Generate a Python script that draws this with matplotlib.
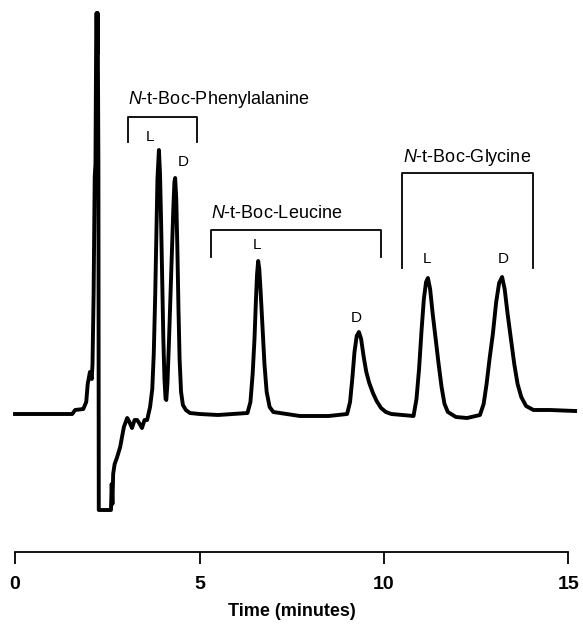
import matplotlib
matplotlib.use("Agg")
import matplotlib.pyplot as plt

plt.rcParams['font.family'] = ['Liberation Sans', 'DejaVu Sans']
plt.rcParams['mathtext.fontset'] = 'custom'
plt.rcParams['mathtext.it'] = 'Liberation Sans:italic'
plt.rcParams['mathtext.rm'] = 'Liberation Sans'

# chromatogram trace (time in minutes, detector signal in arbitrary units)
time_min = [0.00, 1.55, 1.63, 1.85, 1.93, 1.97, 2.03, 2.08, 2.10, 2.13, 2.16, 2.18, 2.20, 2.21,
            2.23, 2.24, 2.26, 2.27, 2.30, 2.60, 2.62, 2.64, 2.66, 2.70, 2.76, 2.85, 2.95,
            3.04, 3.10, 3.17, 3.24, 3.31, 3.38, 3.44, 3.51, 3.58,
            3.66, 3.72, 3.76, 3.80, 3.83, 3.86, 3.90, 3.93, 3.96, 3.99, 4.02, 4.05, 4.08,
            4.10, 4.13, 4.17, 4.21, 4.25, 4.29, 4.32, 4.34, 4.37, 4.40, 4.43, 4.46, 4.50,
            4.55, 4.63, 4.74, 5.00, 5.50,
            6.30, 6.38, 6.44, 6.49, 6.53, 6.56, 6.59, 6.62, 6.66, 6.71, 6.76, 6.82, 6.90,
            7.00, 7.72, 8.50,
            9.00, 9.08, 9.14, 9.20, 9.26, 9.32, 9.38, 9.45, 9.52, 9.60, 9.70, 9.80, 9.92,
            10.05, 10.20, 10.50,
            10.80, 10.88, 10.95, 11.02, 11.08, 11.14, 11.19, 11.25, 11.32, 11.40, 11.48,
            11.56, 11.64, 11.73, 11.95, 12.25,
            12.60, 12.70, 12.78, 12.86, 12.95, 13.04, 13.12, 13.20, 13.27, 13.35, 13.44,
            13.53, 13.62, 13.72, 13.85, 14.05, 14.50, 15.18]
signal = [0, 0, 4, 5, 12, 30, 42, 35, 50, 120, 237, 250, 380, 401,
          360, 401, 250, -96, -96, -96, -70, -90, -60, -50, -44, -33, -13,
          -4, -8, -14, -6, -6, -10, -14, -6, -6,
          7, 25, 60, 120, 180, 235, 264, 240, 190, 130, 75, 35, 15,
          14, 30, 70, 115, 160, 205, 232, 236, 215, 165, 105, 55, 22,
          9, 4, 1, 0, -1,
          1, 12, 40, 75, 115, 140, 153, 145, 120, 85, 50, 22, 7,
          2, -2, -2,
          0, 12, 35, 62, 78, 82, 75, 57, 42, 31, 21, 13, 6,
          2, 0, -1,
          -2, 15, 45, 85, 115, 132, 136, 125, 100, 75, 50,
          27, 10, 2, -3, -4,
          -1, 10, 30, 55, 80, 112, 131, 137, 125, 100, 75,
          50, 30, 17, 8, 4, 4, 3]

x_ticks = [0, 5, 10, 15]
compounds = ['$N$-t-Boc-Phenylalanine', '$N$-t-Boc-Leucine', '$N$-t-Boc-Glycine']
bracket_x0 = [3.06, 5.31, 10.49]
bracket_x1 = [4.93, 9.92, 14.04]
bracket_top = [297, 184, 241]
bracket_bottom = [272, 157, 146]
peak_labels = ['L', 'D', 'L', 'D', 'L', 'D']
peak_label_t = [3.66, 4.55, 6.56, 9.24, 11.17, 13.22]
peak_label_s = [277, 252, 169, 96, 155, 155]

fig = plt.figure(figsize=(5.83, 6.26), dpi=100)
ax = fig.add_axes([0, 0, 1, 1])
ax.set_xlim(-0.407, 15.393)
ax.set_ylim(-212, 414)

ax.plot(time_min, signal, color='black', lw=2.8, solid_joinstyle='round')

# brackets and compound names
for i, name in enumerate(compounds):
    x0, x1 = bracket_x0[i], bracket_x1[i]
    ax.plot([x0, x0, x1, x1], [bracket_bottom[i], bracket_top[i], bracket_top[i], bracket_bottom[i]],
            color='black', lw=1.3)
    if i == 2:
        ax.text((x0 + x1) / 2, bracket_top[i] + 16, name, ha='center', va='center', fontsize=13)
    else:
        ax.text(x0, bracket_top[i] + 17, name, ha='left', va='center', fontsize=13)

for lab, t, s in zip(peak_labels, peak_label_t, peak_label_s):
    ax.text(t, s, lab, ha='center', va='center', fontsize=11)

for side in ['left', 'right', 'top']:
    ax.spines[side].set_visible(False)
ax.spines['bottom'].set_position(('data', -138))
ax.spines['bottom'].set_bounds(0, 15)
ax.spines['bottom'].set_linewidth(1.3)
ax.set_yticks([])
ax.set_xticks(x_ticks)
ax.tick_params(axis='x', direction='out', length=8.6, width=1.3, pad=9,
               labelsize=14)
for lbl in ax.get_xticklabels():
    lbl.set_fontweight('bold')
ax.text(7.5, -197, 'Time (minutes)', ha='center', va='center', fontsize=13, fontweight='bold')

fig.savefig('out.png', dpi=100)
